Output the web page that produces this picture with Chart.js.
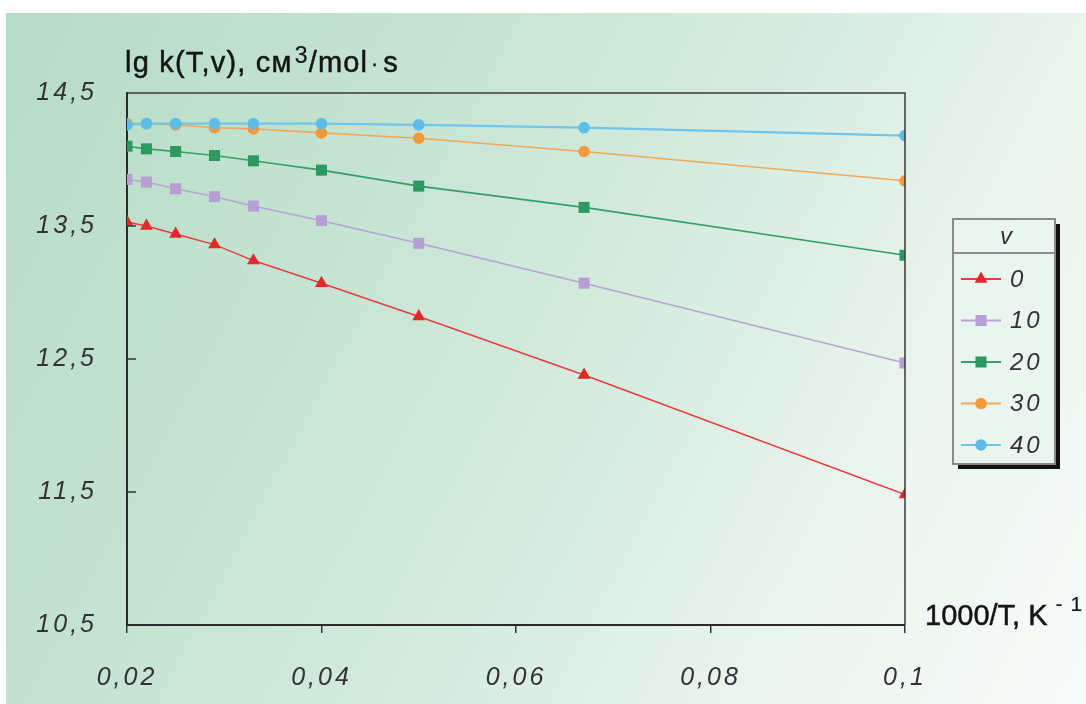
<!DOCTYPE html>
<html>
<head>
<meta charset="utf-8">
<script src="https://cdn.jsdelivr.net/npm/chart.js@4.4.1/dist/chart.umd.min.js"></script>
<style>
html,body{margin:0;padding:0;background:#fff;}
#wrap{position:relative;width:1086px;height:704px;overflow:hidden;background:#fff;}
#bg{position:absolute;left:6px;top:13px;right:0;bottom:0;
  background:linear-gradient(118deg,#b5dcc6 0%,#c5e3d2 30%,#d6ecdf 55%,#ebf5ef 78%,#f8fbf9 100%);}
#c{position:absolute;left:0;top:0;}
.t{position:absolute;font-family:"Liberation Sans",Arial,sans-serif;color:#151515;white-space:nowrap;font-size:29px;line-height:29px;-webkit-text-stroke:0.5px #151515;}
.t sup{line-height:0;}
</style>
</head>
<body>
<div id="wrap">
  <div id="bg"></div>
  <canvas id="c" width="1086" height="704"></canvas>
  <div class="t" id="ytitle" style="left:125px;top:48px;letter-spacing:1.2px;">lg k(T,v), см<sup style="font-size:23px;vertical-align:9px;margin-left:2px;-webkit-text-stroke:0.2px #151515;">3</sup>/mol<span style="font-size:20px;margin:0 4px 0 3px;vertical-align:2px;">·</span>s</div>
  <div class="t" id="xtitle" style="left:925px;top:601px;">1000/T, K<sup style="font-size:21px;vertical-align:14px;margin-left:8px;letter-spacing:8px;-webkit-text-stroke:0.2px #151515;">-1</sup></div>
</div>
<script>
// ---- data ----
const xValues = [0.02, 0.022, 0.025, 0.029, 0.033, 0.04, 0.05, 0.067, 0.1];
const seriesLabels = ['0', '10', '20', '30', '40'];
const v0  = [13.53, 13.50, 13.44, 13.36, 13.24, 13.07, 12.82, 12.38, 11.48];
const v10 = [13.85, 13.83, 13.78, 13.72, 13.65, 13.54, 13.37, 13.07, 12.47];
const v20 = [14.10, 14.08, 14.06, 14.03, 13.99, 13.92, 13.80, 13.64, 13.28];
const v30 = [14.27, 14.27, 14.26, 14.24, 14.23, 14.20, 14.16, 14.06, 13.84];
const v40 = [14.26, 14.27, 14.27, 14.27, 14.27, 14.27, 14.26, 14.24, 14.18];
const xTickValues = [0.02, 0.04, 0.06, 0.08, 0.1];
const xTickLabels = ['0,02', '0,04', '0,06', '0,08', '0,1'];
const yTickValues = [10.5, 11.5, 12.5, 13.5, 14.5];
const yTickLabels = ['10,5', '11,5', '12,5', '13,5', '14,5'];
const legendTitle = 'v';

const styles = [
  {line:'#e63c3c', pt:'#e02a2a', shape:'triangle', r:7.4, w:1.5},
  {line:'#b8a3d4', pt:'#b79fd4', shape:'rect', r:7.8, w:1.5},
  {line:'#33a067', pt:'#2c9a5e', shape:'rect', r:7.8, w:1.6},
  {line:'#f0a95c', pt:'#f2993a', shape:'circle', r:5.8, w:1.6},
  {line:'#72c5ea', pt:'#5cbde8', shape:'circle', r:5.8, w:2.2}
];
const allSeries = [v0, v10, v20, v30, v40];

const datasets = allSeries.map((vals, i) => ({
  label: seriesLabels[i],
  data: vals.map((y, j) => ({x: xValues[j], y: y})),
  borderColor: styles[i].line,
  backgroundColor: styles[i].pt,
  pointBackgroundColor: styles[i].pt,
  pointBorderColor: styles[i].pt,
  pointBorderWidth: 0,
  pointStyle: styles[i].shape,
  pointRadius: styles[i].r,
  borderWidth: styles[i].w,
  tension: 0,
  fill: false
}));
datasets.reverse(); // blue drawn on top of orange, as in the picture

const tickFont = {family: '"Liberation Sans", Arial, sans-serif', size: 25, style: 'italic'};

const framePlugin = {
  id: 'frame',
  beforeDraw(chart) {
    chart.ctx.letterSpacing = '3px';
  },
  afterDraw(chart) {
    const ctx = chart.ctx, a = chart.chartArea;
    const ys = chart.scales.y;
    ctx.save();
    ctx.letterSpacing = '0px';
    ctx.strokeStyle = '#3a3a3a';
    ctx.lineWidth = 1.5;
    ctx.beginPath();
    ctx.moveTo(a.left, a.top);
    ctx.lineTo(a.right, a.top);
    ctx.lineTo(a.right, a.bottom);
    ctx.stroke();
    ctx.strokeStyle = '#333';
    ys.ticks.forEach(t => {
      const py = ys.getPixelForValue(t.value);
      if (Math.abs(py - a.top) < 2 || Math.abs(py - a.bottom) < 2) return;
      ctx.beginPath();
      ctx.moveTo(a.left, py);
      ctx.lineTo(a.left + 9, py);
      ctx.stroke();
    });
    // legend
    const L = {x: 953, y: 219, w: 102, h: 245};
    ctx.fillStyle = '#111';
    ctx.fillRect(L.x + 5, L.y + 5, L.w, L.h);
    ctx.fillStyle = '#ebf5f0';
    ctx.fillRect(L.x, L.y, L.w, L.h);
    ctx.strokeStyle = '#8a8a8a';
    ctx.lineWidth = 2;
    ctx.strokeRect(L.x, L.y, L.w, L.h);
    ctx.beginPath();
    ctx.moveTo(L.x, L.y + 34);
    ctx.lineTo(L.x + L.w, L.y + 34);
    ctx.stroke();
    ctx.font = 'italic 24px "Liberation Sans", Arial, sans-serif';
    ctx.fillStyle = '#333';
    ctx.textAlign = 'center';
    ctx.textBaseline = 'middle';
    ctx.fillText(legendTitle, L.x + 53, L.y + 18);
    const ordered = chart.data.datasets.slice().sort((p, q) => Number(p.label) - Number(q.label));
    ordered.forEach((ds, i) => {
      const cy = 279 + i * 41.5;
      ctx.strokeStyle = ds.borderColor;
      ctx.lineWidth = 2;
      ctx.beginPath();
      ctx.moveTo(961, cy);
      ctx.lineTo(1001, cy);
      ctx.stroke();
      ctx.fillStyle = ds.pointBackgroundColor;
      ctx.strokeStyle = ds.pointBackgroundColor;
      Chart.helpers.drawPoint(ctx, {pointStyle: ds.pointStyle, radius: ds.pointRadius, borderWidth: 0, rotation: 0}, 981, cy);
      ctx.fillStyle = '#333';
      ctx.textAlign = 'left';
      ctx.letterSpacing = '3px';
      ctx.fillText(ds.label, 1010, cy + 1);
      ctx.letterSpacing = '0px';
    });
    ctx.restore();
  }
};

new Chart(document.getElementById('c'), {
  type: 'line',
  data: {datasets: datasets},
  options: {
    responsive: false,
    animation: false,
    devicePixelRatio: 1,
    layout: {padding: {left: 0, right: 181, top: 93, bottom: 0}},
    plugins: {legend: {display: false}, tooltip: {enabled: false}, title: {display: false}},
    scales: {
      x: {
        type: 'linear',
        min: 0.02, max: 0.1,
        afterBuildTicks: s => { s.ticks = xTickValues.map(v => ({value: v})); },
        afterFit: s => { s.height = 79; },
        ticks: {
          autoSkip: false, maxRotation: 0, padding: 30,
          color: '#333', font: tickFont,
          callback: (v) => { const k = xTickValues.findIndex(t => Math.abs(t - v) < 1e-9); return k >= 0 ? xTickLabels[k] : ''; }
        },
        grid: {display: true, drawOnChartArea: false, drawTicks: true, tickLength: 8, color: '#333', lineWidth: 1.5},
        border: {display: true, color: '#2a2a2a', width: 2}
      },
      y: {
        type: 'linear',
        min: 10.5, max: 14.5,
        afterBuildTicks: s => { s.ticks = yTickValues.map(v => ({value: v})); },
        afterFit: s => { s.width = 127; },
        ticks: {
          autoSkip: false, padding: 30,
          color: '#333', font: tickFont,
          callback: (v) => { const k = yTickValues.findIndex(t => Math.abs(t - v) < 1e-9); return k >= 0 ? yTickLabels[k] : ''; }
        },
        grid: {display: true, drawOnChartArea: false, drawTicks: false},
        border: {display: true, color: '#2a2a2a', width: 2}
      }
    }
  },
  plugins: [framePlugin]
});
</script>
</body>
</html>
